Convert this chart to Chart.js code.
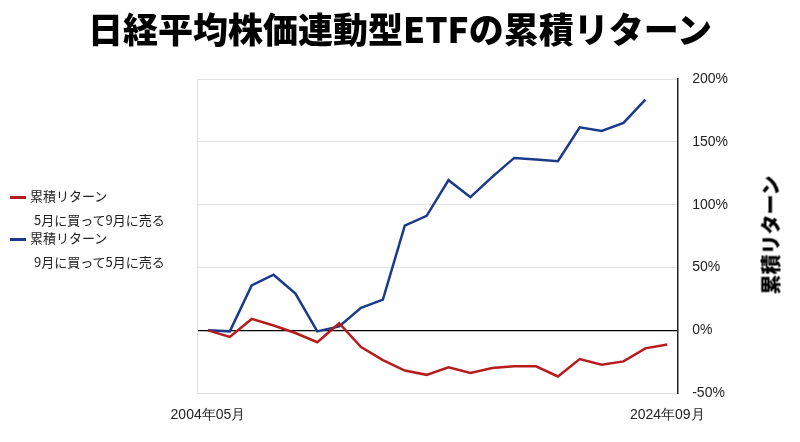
<!DOCTYPE html>
<html><head><meta charset="utf-8">
<script src="https://cdn.jsdelivr.net/npm/chart.js@4"></script>
<style>
body{margin:0;background:#fff;font-family:"Noto Sans CJK JP",sans-serif;}
#wrap{position:relative;width:800px;height:442px;}
#title{position:absolute;left:0;top:2px;width:800px;text-align:center;font-size:35px;font-weight:900;color:#000;}
#ytitle{position:absolute;left:770px;top:235px;transform:translate(-50%,-50%) rotate(-90deg);font-size:20px;font-weight:900;color:#000;white-space:nowrap;}
#legend{position:absolute;left:10px;top:184px;font-size:13px;color:#222;line-height:24px;}
#legend .sw{display:inline-block;width:16px;height:3px;vertical-align:middle;margin-right:4px;}
</style></head>
<body><div id="wrap"><canvas id="c" width="800" height="442"></canvas>
<div id="title">日経平均株価連動型ETFの累積リターン</div>
<div id="ytitle">累積リターン</div>
<div id="legend">
<div><span class="sw" style="background:#b71c1c"></span>累積リターン</div>
<div style="padding-left:24px">5月に買って9月に売る</div>
<div style="margin-top:-6px"><span class="sw" style="background:#1a3a8a"></span>累積リターン</div>
<div style="padding-left:24px">9月に買って5月に売る</div>
</div></div>
<script>
// ----- data -----
const labels = ['2004年05月','','','','','','','','','','','','','','','','','','','','','2024年09月'];
const mayToSep = [0,-5.2,9.1,3.9,-2.1,-9.4,5.7,-13.3,-23.7,-32.0,-35.4,-29.4,-33.9,-29.9,-28.6,-28.6,-36.7,-22.9,-27.3,-24.7,-14.3,-11.2];
const sepToMay = [0,-0.8,35.7,44.3,29.2,-0.8,3.1,18.0,24.5,83.3,91.1,119.5,106.0,122.1,137.2,135.9,134.6,161.5,158.6,165.1,183.6,null];
const yTicks = [-50,0,50,100,150,200];

// light frame on the left / top of the plot
const frame = {
    id: 'frame',
    beforeDatasetsDraw(chart) {
        const { ctx, chartArea: a } = chart;
        ctx.save();
        ctx.strokeStyle = '#e0e0e0';
        ctx.lineWidth = 1;
        ctx.beginPath();
        ctx.moveTo(a.left + 0.5, a.bottom);
        ctx.lineTo(a.left + 0.5, a.top);
        ctx.stroke();
        ctx.restore();
    }
};

new Chart(document.getElementById('c').getContext('2d'), {
    type: 'line',
    data: {
        labels: labels,
        datasets: [
            { label: '累積リターン 5月に買って9月に売る', data: mayToSep, borderColor: '#b71c1c', borderWidth: 2.5, pointRadius: 0, tension: 0 },
            { label: '累積リターン 9月に買って5月に売る', data: sepToMay, borderColor: '#1a3a8a', borderWidth: 2.5, pointRadius: 0, tension: 0 }
        ]
    },
    options: {
        responsive: false,
        animation: false,
        layout: { padding: { left: 197, right: 58, top: 79, bottom: 12 } },
        plugins: { legend: { display: false } },
        scales: {
            x: {
                offset: true,
                grid: { display: false },
                border: { color: '#ddd' },
                ticks: { autoSkip: false, maxRotation: 0, color: '#222', font: { size: 14 }, padding: 6 }
            },
            y: {
                position: 'right', min: -50, max: 200,
                afterBuildTicks: a => { a.ticks = yTicks.map(v => ({ value: v })); },
                grid: { color: c => c.tick && c.tick.value === 0 ? '#000' : '#e2e2e2', lineWidth: c => c.tick && c.tick.value === 0 ? 1.2 : 1, drawTicks: false },
                border: { color: '#222', width: 1.5 },
                ticks: { color: '#222', font: { size: 14 }, padding: 14, callback: v => v + '%' }
            }
        }
    },
    plugins: [frame]
});
</script></body></html>
